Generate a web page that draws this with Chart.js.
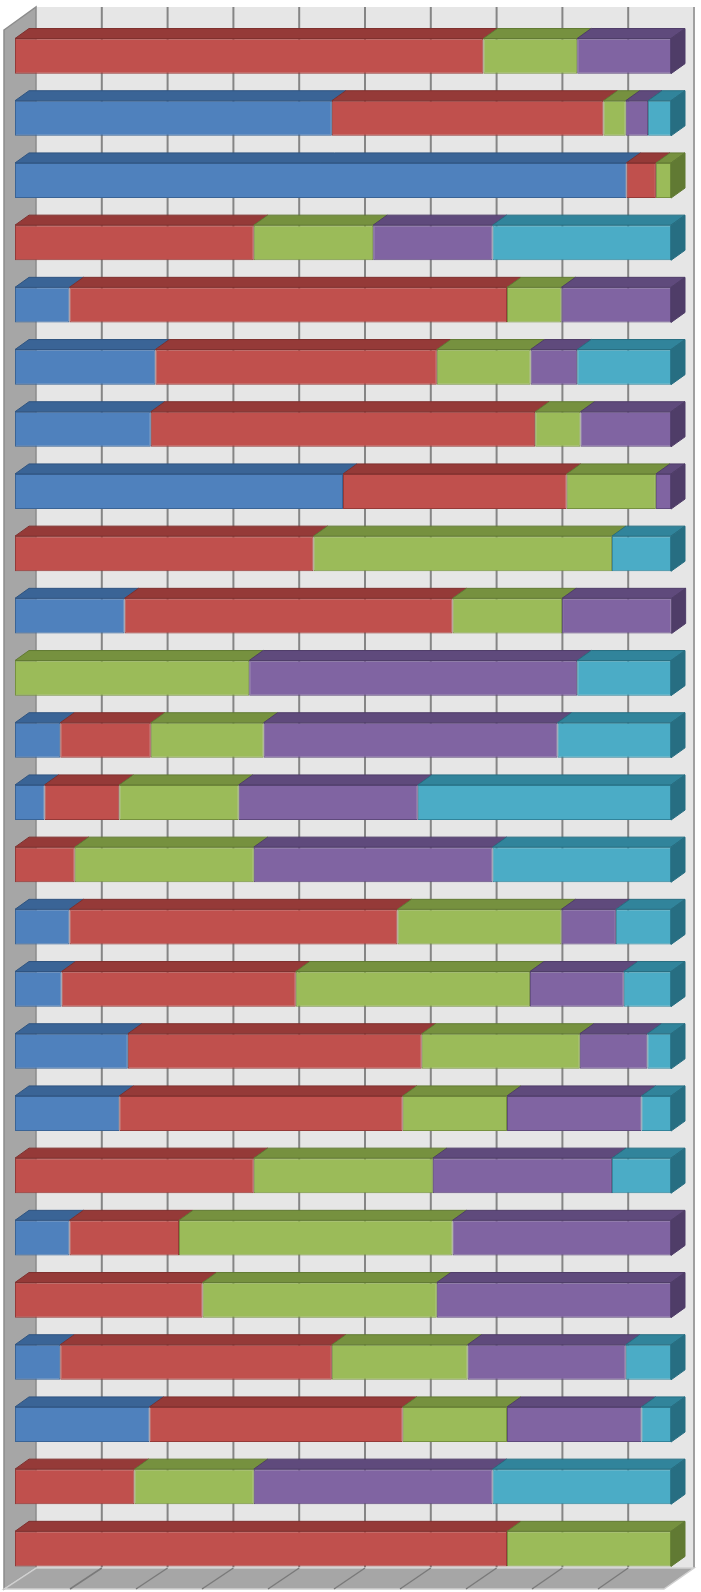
<!DOCTYPE html>
<html>
<head>
<meta charset="utf-8">
<script src="https://cdn.jsdelivr.net/npm/chart.js@4"></script>
<style>
  body { margin: 0; background: #fff; }
  canvas { display: block; }
</style>
</head>
<body>
<canvas id="myChart" width="701" height="1592"></canvas>
<script>
// rows, top to bottom (no labels are shown on the chart)
const rows = ['1','2','3','4','5','6','7','8','9','10','11','12','13','14','15','16','17','18','19','20','21','22','23','24','25'];

// share of each series in every row, percent
const blue   = [0, 48.3, 93.2, 0, 8.3, 21.4, 20.7, 50.0, 0, 16.7, 0, 6.9, 4.5, 0, 8.3, 7.1, 17.2, 15.9, 0, 8.3, 0, 6.9, 20.5, 0, 0];
const red    = [71.4, 41.4, 4.5, 36.4, 66.7, 42.9, 58.6, 34.1, 45.5, 50.0, 0, 13.8, 11.4, 9.1, 50.0, 35.7, 44.8, 43.2, 36.4, 16.7, 28.6, 41.4, 38.6, 18.2, 75.0];
const green  = [14.3, 3.4, 2.3, 18.2, 8.3, 14.3, 6.9, 13.6, 45.5, 16.7, 35.7, 17.2, 18.2, 27.3, 25.0, 35.7, 24.1, 15.9, 27.3, 41.7, 35.7, 20.7, 15.9, 18.2, 25.0];
const purple = [14.3, 3.4, 0, 18.2, 16.7, 7.1, 13.8, 2.3, 0, 16.7, 50.0, 44.8, 27.3, 36.4, 8.3, 14.3, 10.3, 20.5, 27.3, 33.3, 35.7, 24.1, 20.5, 36.4, 0];
const cyan   = [0, 3.5, 0, 27.2, 0, 14.3, 0, 0, 9.0, 0, 14.3, 17.3, 38.6, 27.2, 8.4, 7.2, 3.6, 4.5, 9.0, 0, 0, 6.9, 4.5, 27.2, 0];

const front = ['#4F81BD', '#C0504D', '#9BBB59', '#8064A2', '#4BACC6'];
const topc  = ['#3A6496', '#953A38', '#76913F', '#5F4A7C', '#31849B'];
const side  = ['#2F5480', '#7E302E', '#617A33', '#4F3D68', '#276E82'];

const DX = 14, DY = 10;

const box3d = {
    id: 'box3d',
    beforeDatasetsDraw(chart) {
        const ctx = chart.ctx;
        const x = chart.scales.x;
        const bx = v => x.getPixelForValue(0) + 21 + v * 6.58;
        const fx = v => 4 + v * 6.6;
        const wallTop = 7, wallBot = 1568, floorBot = 1589;
        ctx.save();
        // back wall
        ctx.fillStyle = '#e6e6e6';
        ctx.fillRect(bx(0), wallTop, bx(100) - bx(0), wallBot - wallTop);
        ctx.strokeStyle = '#858585';
        ctx.lineWidth = 2;
        for (let v = 10; v < 100; v += 10) {
            ctx.beginPath();
            ctx.moveTo(bx(v), wallTop);
            ctx.lineTo(bx(v), wallBot);
            ctx.stroke();
        }
        ctx.strokeStyle = '#a0a0a0';
        ctx.beginPath();
        ctx.moveTo(bx(100), wallTop);
        ctx.lineTo(bx(100), wallBot);
        ctx.stroke();
        // left wall
        ctx.fillStyle = '#a6a6a6';
        ctx.beginPath();
        ctx.moveTo(4, 30);
        ctx.lineTo(bx(0), wallTop);
        ctx.lineTo(bx(0), wallBot);
        ctx.lineTo(4, floorBot);
        ctx.closePath();
        ctx.fill();
        ctx.strokeStyle = '#8c8c8c';
        ctx.lineWidth = 1.5;
        ctx.stroke();
        // floor
        ctx.fillStyle = '#a6a6a6';
        ctx.beginPath();
        ctx.moveTo(bx(0), wallBot);
        ctx.lineTo(bx(100), wallBot);
        ctx.lineTo(fx(100), floorBot);
        ctx.lineTo(fx(0), floorBot);
        ctx.closePath();
        ctx.fill();
        ctx.strokeStyle = '#d0d0d0';
        ctx.stroke();
        ctx.strokeStyle = '#7a7a7a';
        ctx.lineWidth = 1.5;
        for (let v = 10; v < 100; v += 10) {
            ctx.beginPath();
            ctx.moveTo(bx(v), wallBot);
            ctx.lineTo(fx(v), floorBot);
            ctx.stroke();
        }
        ctx.restore();
    },
    afterDatasetsDraw(chart) {
        const ctx = chart.ctx;
        const last = {};
        ctx.save();
        ctx.lineWidth = 1;
        chart.data.datasets.forEach((ds, d) => {
            chart.getDatasetMeta(d).data.forEach((bar, i) => {
                const p = bar.getProps(['x', 'y', 'base', 'height'], true);
                if (Math.abs(p.x - p.base) < 0.5) return;
                const t = p.y - p.height / 2;
                ctx.fillStyle = topc[d];
                ctx.strokeStyle = side[d];
                ctx.beginPath();
                ctx.moveTo(p.base, t);
                ctx.lineTo(p.x, t);
                ctx.lineTo(p.x + DX, t - DY);
                ctx.lineTo(p.base + DX, t - DY);
                ctx.closePath();
                ctx.fill();
                ctx.stroke();
                if (!last[i] || p.x >= last[i].p.x) last[i] = { p, d };
            });
        });
        Object.values(last).forEach(({ p, d }) => {
            const t = p.y - p.height / 2, b = p.y + p.height / 2;
            ctx.fillStyle = side[d];
            ctx.strokeStyle = side[d];
            ctx.beginPath();
            ctx.moveTo(p.x, t);
            ctx.lineTo(p.x + DX, t - DY);
            ctx.lineTo(p.x + DX, b - DY);
            ctx.lineTo(p.x, b);
            ctx.closePath();
            ctx.fill();
            ctx.stroke();
        });
        ctx.restore();
    }
};

const series = [blue, red, green, purple, cyan];
const names = ['Series 1', 'Series 2', 'Series 3', 'Series 4', 'Series 5'];

new Chart(document.getElementById('myChart'), {
    type: 'bar',
    data: {
        labels: rows,
        datasets: series.map((vals, k) => ({
            label: names[k],
            data: vals,
            backgroundColor: front[k],
            borderColor: topc[k],
            borderWidth: 1,
            borderSkipped: false,
            barPercentage: 0.565,
            categoryPercentage: 1
        }))
    },
    options: {
        indexAxis: 'y',
        responsive: false,
        animation: false,
        layout: { padding: { left: 15, right: 30, top: 25, bottom: 12 } },
        scales: {
            x: { stacked: true, min: 0, max: 100, display: false },
            y: { stacked: true, display: false }
        },
        plugins: {
            legend: { display: false },
            tooltip: { enabled: false }
        }
    },
    plugins: [box3d]
});
</script>
</body>
</html>
